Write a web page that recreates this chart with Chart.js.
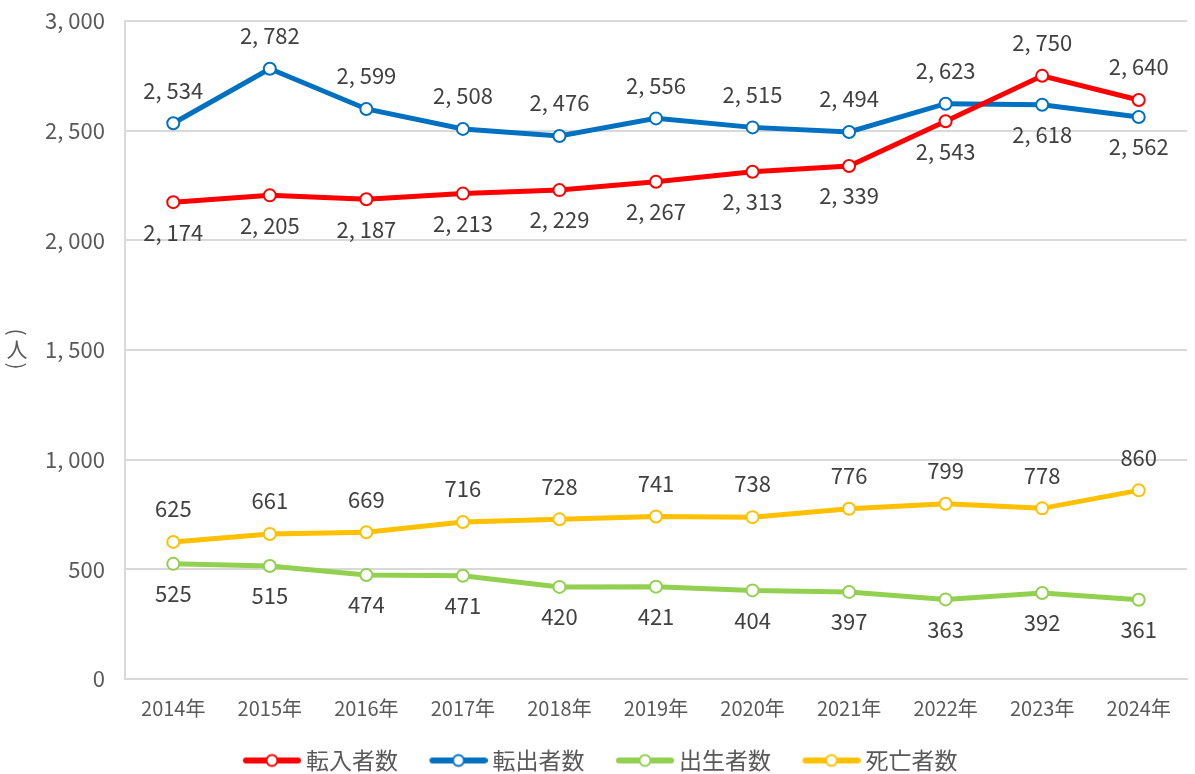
<!DOCTYPE html>
<html>
<head>
<meta charset="utf-8">
<script src="https://cdn.jsdelivr.net/npm/chart.js@4/dist/chart.umd.min.js"></script>
<style>
  html, body { margin: 0; padding: 0; background: #fff; }
  #wrap { width: 1195px; height: 774px; }
</style>
</head>
<body>
<div id="wrap"><canvas id="chart" width="1195" height="774"></canvas></div>
<script>
// 年
const years = ['2014年', '2015年', '2016年', '2017年', '2018年', '2019年', '2020年', '2021年', '2022年', '2023年', '2024年'];

// 各系列
const tennyu = [2174, 2205, 2187, 2213, 2229, 2267, 2313, 2339, 2543, 2750, 2640];
const tenshutsu = [2534, 2782, 2599, 2508, 2476, 2556, 2515, 2494, 2623, 2618, 2562];
const shusshou = [525, 515, 474, 471, 420, 421, 404, 397, 363, 392, 361];
const shibou = [625, 661, 669, 716, 728, 741, 738, 776, 799, 778, 860];

// ラベルの位置（上 / 下）
const tennyuPos = ['b', 'b', 'b', 'b', 'b', 'b', 'b', 'b', 'b', 't', 't'];
const tenshutsuPos = ['t', 't', 't', 't', 't', 't', 't', 't', 't', 'b', 'b'];
const shusshouPos = ['b', 'b', 'b', 'b', 'b', 'b', 'b', 'b', 'b', 'b', 'b'];
const shibouPos = ['t', 't', 't', 't', 't', 't', 't', 't', 't', 't', 't'];

const yTicks = [0, 500, 1000, 1500, 2000, 2500, 3000];

const FONT = '"Noto Sans CJK JP", "Noto Sans", sans-serif';

function fmt(v) {
  return v >= 1000 ? Math.floor(v / 1000) + ', ' + String(v % 1000).padStart(3, '0') : String(v);
}

// 凡例用の線＋丸（左側は透明の余白）
function legendIcon(color) {
  const c = document.createElement('canvas');
  c.width = 93; c.height = 16;
  const ctx = c.getContext('2d');
  ctx.strokeStyle = color;
  ctx.lineWidth = 6;
  ctx.lineCap = 'round';
  ctx.beginPath();
  ctx.moveTo(38, 8); ctx.lineTo(90, 8);
  ctx.stroke();
  ctx.beginPath();
  ctx.arc(64, 8, 5.5, 0, Math.PI * 2);
  ctx.fillStyle = '#fff';
  ctx.fill();
  ctx.lineWidth = 2;
  ctx.stroke();
  return c;
}

function series(label, data, color, pos) {
  return {
    label: label,
    data: data,
    borderColor: color,
    backgroundColor: '#fff',
    borderWidth: 5,
    pointRadius: 6,
    pointBorderWidth: 2,
    pointBackgroundColor: '#fff',
    pointBorderColor: color,
    pointStyle: 'circle',
    legendIcon: legendIcon(color),
    labelPos: pos,
    tension: 0
  };
}

// データラベル
const dataLabels = {
  id: 'dataLabels',
  afterDatasetsDraw(chart) {
    const ctx = chart.ctx;
    ctx.save();
    ctx.font = '22px ' + FONT;
    ctx.fillStyle = '#404040';
    ctx.textAlign = 'center';
    ctx.textBaseline = 'middle';
    chart.data.datasets.forEach((ds, i) => {
      chart.getDatasetMeta(i).data.forEach((pt, j) => {
        const dy = ds.labelPos[j] === 't' ? -33 : 30;
        ctx.fillText(fmt(ds.data[j]), pt.x, pt.y + dy);
      });
    });
    ctx.restore();
  }
};

// 縦書きの軸タイトル（（人））
const yTitle = {
  id: 'yTitle',
  afterDraw(chart) {
    const ctx = chart.ctx;
    ctx.save();
    ctx.font = '21px ' + FONT;
    ctx.fillStyle = '#595959';
    ctx.textAlign = 'center';
    ctx.textBaseline = 'middle';
    const x = 17, y = 349;
    ctx.fillText('人', x, y);
    ctx.translate(x, y - 17);
    ctx.rotate(Math.PI / 2);
    ctx.fillText('(', 0, 0);
    ctx.rotate(-Math.PI / 2);
    ctx.translate(0, 34);
    ctx.rotate(Math.PI / 2);
    ctx.fillText(')', 0, 0);
    ctx.restore();
  }
};

// 凡例の位置を少しずらす
const legendShift = {
  id: 'legendShift',
  afterLayout(chart) {
    const lg = chart.legend;
    lg.left -= 9; lg.right -= 9;
    lg.top += 8; lg.bottom += 8;
  }
};

new Chart(document.getElementById('chart'), {
  type: 'line',
  data: {
    labels: years,
    datasets: [
      series('転入者数', tennyu, '#FF0000', tennyuPos),
      series('転出者数', tenshutsu, '#0070C0', tenshutsuPos),
      series('出生者数', shusshou, '#92D050', shusshouPos),
      series('死亡者数', shibou, '#FFC000', shibouPos)
    ]
  },
  options: {
    responsive: false,
    animation: false,
    layout: { padding: { top: 21, right: 5, left: 0, bottom: 0 } },
    plugins: {
      tooltip: { enabled: false },
      legend: {
        position: 'bottom',
        labels: {
          usePointStyle: true,
          pointStyleWidth: 80,
          padding: 3,
          color: '#595959',
          font: { family: FONT, size: 23 },
          generateLabels(chart) {
            return chart.data.datasets.map((ds, i) => ({
              text: ds.label,
              pointStyle: ds.legendIcon,
              fillStyle: ds.borderColor,
              strokeStyle: ds.borderColor,
              fontColor: '#595959',
              lineWidth: 0,
              hidden: false,
              datasetIndex: i
            }));
          }
        }
      }
    },
    scales: {
      x: {
        offset: true,
        afterFit(scale) { scale.height = 59; },
        grid: { display: false },
        border: { color: '#d9d9d9', width: 2 },
        ticks: { color: '#595959', font: { family: FONT, size: 20 }, maxRotation: 0, padding: 9 }
      },
      y: {
        min: 0,
        max: 3000,
        afterBuildTicks(scale) { scale.ticks = yTicks.map(v => ({ value: v })); },
        afterFit(scale) { scale.width = 125; scale.paddingTop = 0; scale.paddingBottom = 0; },
        grid: { color: '#d9d9d9', lineWidth: 2, drawTicks: false },
        border: { color: '#d9d9d9', width: 2 },
        ticks: {
          color: '#595959',
          font: { family: FONT, size: 22 },
          padding: 20,
          callback: v => fmt(v)
        }
      }
    }
  },
  plugins: [dataLabels, yTitle, legendShift]
});
</script>
</body>
</html>
